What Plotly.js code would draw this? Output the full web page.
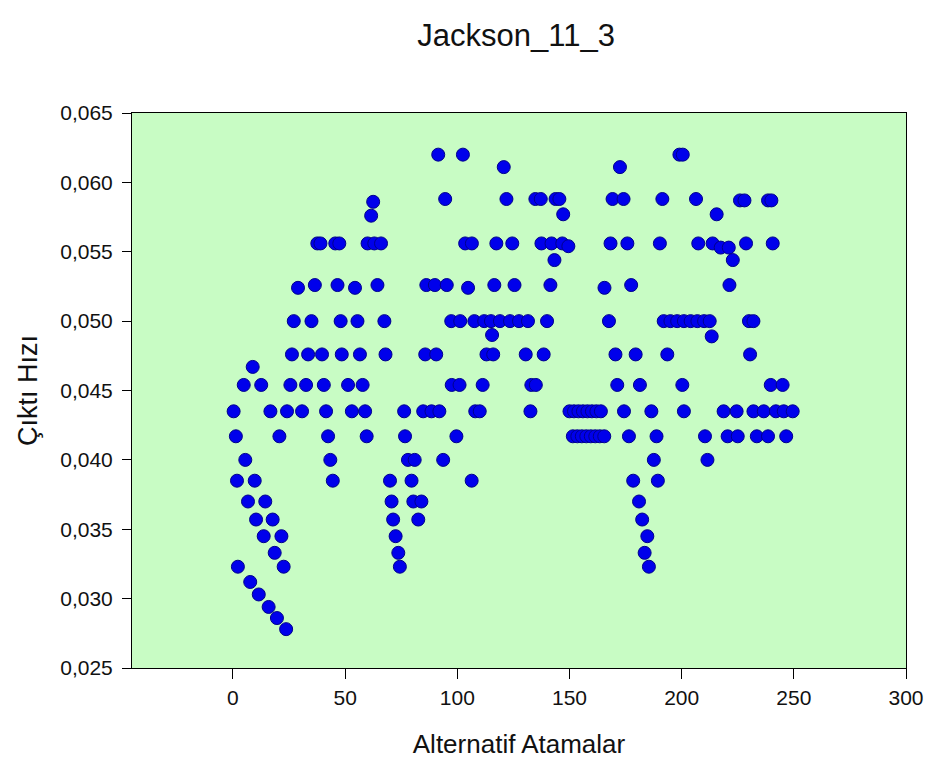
<!DOCTYPE html>
<html>
<head>
<meta charset="utf-8">
<script src="https://cdn.plot.ly/plotly-3.0.1.min.js"></script>
<style>
  html, body { margin: 0; padding: 0; background: #ffffff; }
  #chart { width: 930px; height: 765px; }
</style>
</head>
<body>
<div id="chart"></div>
<script>
// Alternatif Atamalar (x) and Çıktı Hızı (y)
const altX = [
  0.3, 1.3, 1.8, 2.2, 4.8, 5.5, 6.7, 7.7, 8.8, 9.7,
  10.3, 11.5, 12.6, 13.7, 14.4, 15.9, 16.7, 17.7, 18.6, 19.6,
  20.7, 21.6, 22.6, 23.7, 24.1, 25.6, 26.3, 27.1, 29.0, 30.8,
  32.6, 33.5, 35.0, 36.5, 37.6, 39.0, 39.7, 40.5, 41.5, 42.4,
  43.4, 44.5, 45.6, 46.6, 47.4, 48.0, 48.5, 51.3, 53.0, 54.4,
  55.5, 56.6, 57.8, 58.9, 59.6, 60.0, 61.6, 62.5, 63.0, 64.4,
  66.0, 67.5, 68.0, 70.0, 70.7, 71.4, 72.5, 73.7, 74.4, 76.3,
  76.7, 78.0, 79.6, 80.4, 81.0, 82.6, 84.0, 84.8, 85.7, 86.2,
  88.5, 90.0, 90.6, 91.5, 92.0, 93.7, 94.6, 95.3, 97.3, 97.5,
  99.6, 101.0, 101.3, 102.5, 103.5, 104.8, 106.5, 106.4, 107.6, 108.0,
  110.0, 111.3, 112.0, 113.0, 115.0, 115.5, 116.0, 116.5, 117.4, 119.0,
  120.7, 121.9, 123.5, 124.5, 125.5, 127.5, 130.5, 131.5, 132.6, 133.0,
  135.0, 134.8, 137.2, 137.5, 138.5, 140.0, 141.5, 142.0, 143.3, 143.8,
  145.5, 146.8, 147.2, 149.5,
  150, 152, 154, 156, 158, 160, 162, 164,
  151.5, 153.5, 155.5, 157.5, 159.5, 161.5, 163.5, 165.5,
  165.6, 167.6, 168.3, 169.2, 170.5, 171.3, 172.5, 174.1, 174.3, 175.8,
  176.5, 177.5, 178.4, 179.5, 181.0, 181.4, 182.4, 183.5, 184.7, 185.4,
  186.5, 187.6, 188.8, 189.4, 190.3, 191.4,
  192, 195, 198, 201, 204, 207, 210, 212.5,
  193.6, 199.0, 200.5, 200.3, 201.0, 206.4, 207.4, 210.4, 211.5, 213.4,
  213.8, 215.6, 217.4, 218.7, 220.5, 221.0, 221.3, 222.8, 224.5, 225.0,
  226.0, 228.0, 228.7, 230.0, 230.5, 232.0, 232.0, 233.5, 236.6, 238.5,
  238.5, 239.7, 240.0, 240.6, 242.0, 245.0, 245.5, 246.6, 249.5
];
const ciktiHizi = [
  0.0435, 0.0417, 0.0385, 0.0323, 0.0454, 0.0400, 0.0370, 0.0312, 0.0467, 0.0385,
  0.0357, 0.0303, 0.0454, 0.0345, 0.0370, 0.0294, 0.0435, 0.0357, 0.0333, 0.0286,
  0.0417, 0.0345, 0.0323, 0.0278, 0.0435, 0.0454, 0.0476, 0.0500, 0.0524, 0.0435,
  0.0454, 0.0476, 0.0500, 0.0526, 0.0556, 0.0556, 0.0476, 0.0454, 0.0435, 0.0417,
  0.0400, 0.0385, 0.0556, 0.0526, 0.0556, 0.0500, 0.0476, 0.0454, 0.0435, 0.0524,
  0.0500, 0.0476, 0.0454, 0.0435, 0.0417, 0.0556, 0.0576, 0.0586, 0.0556, 0.0526,
  0.0556, 0.0500, 0.0476, 0.0385, 0.0370, 0.0357, 0.0345, 0.0333, 0.0323, 0.0435,
  0.0417, 0.0400, 0.0385, 0.0370, 0.0400, 0.0357, 0.0370, 0.0435, 0.0476, 0.0526,
  0.0435, 0.0526, 0.0476, 0.0620, 0.0435, 0.0400, 0.0588, 0.0526, 0.0500, 0.0454,
  0.0417, 0.0454, 0.0500, 0.0620, 0.0556, 0.0524, 0.0556, 0.0385, 0.0500, 0.0435,
  0.0435, 0.0454, 0.0500, 0.0476, 0.0500, 0.0490, 0.0476, 0.0526, 0.0556, 0.0500,
  0.0611, 0.0588, 0.0500, 0.0556, 0.0526, 0.0500, 0.0476, 0.0500, 0.0435, 0.0454,
  0.0454, 0.0588, 0.0588, 0.0556, 0.0476, 0.0500, 0.0526, 0.0556, 0.0544, 0.0588,
  0.0588, 0.0556, 0.0577, 0.0554,
  0.0435, 0.0435, 0.0435, 0.0435, 0.0435, 0.0435, 0.0435, 0.0435,
  0.0417, 0.0417, 0.0417, 0.0417, 0.0417, 0.0417, 0.0417, 0.0417,
  0.0524, 0.0500, 0.0556, 0.0588, 0.0476, 0.0454, 0.0611, 0.0588, 0.0435, 0.0556,
  0.0417, 0.0526, 0.0385, 0.0476, 0.0370, 0.0454, 0.0357, 0.0333, 0.0345, 0.0323,
  0.0435, 0.0400, 0.0417, 0.0385, 0.0556, 0.0588,
  0.0500, 0.0500, 0.0500, 0.0500, 0.0500, 0.0500, 0.0500, 0.0500,
  0.0476, 0.0620, 0.0620, 0.0454, 0.0435, 0.0588, 0.0556, 0.0417, 0.0400, 0.0489,
  0.0556, 0.0577, 0.0553, 0.0435, 0.0417, 0.0553, 0.0526, 0.0544, 0.0435, 0.0417,
  0.0587, 0.0587, 0.0556, 0.0500, 0.0476, 0.0500, 0.0435, 0.0417, 0.0435, 0.0417,
  0.0587, 0.0454, 0.0587, 0.0556, 0.0435, 0.0454, 0.0435, 0.0417, 0.0435
];
const yTicks = [0.025, 0.030, 0.035, 0.040, 0.045, 0.050, 0.055, 0.060, 0.065];
const xTicks = [0, 50, 100, 150, 200, 250, 300];

const FONT = '"Liberation Sans", Arial, sans-serif';

const trace = {
  type: 'scatter',
  mode: 'markers',
  x: altX,
  y: ciktiHizi,
  marker: {
    size: 13,
    color: 'rgb(0,0,235)',
    line: { color: 'rgb(0,0,140)', width: 1 }
  },
  hoverinfo: 'x+y'
};

const layout = {
  width: 930,
  height: 765,
  separators: ', ',
  paper_bgcolor: '#ffffff',
  plot_bgcolor: '#c8fcc4',
  margin: { l: 132, r: 24, t: 113, b: 97 },
  showlegend: false,
  font: { family: FONT, color: '#111111', size: 15 },
  title: {
    text: 'Jackson_11_3',
    font: { family: FONT, size: 31, color: '#111111' },
    x: 0.555, xref: 'container', xanchor: 'center',
    y: 0.954, yref: 'container', yanchor: 'middle'
  },
  xaxis: {
    range: [-45, 300],
    tickvals: xTicks,
    ticktext: xTicks.map(String),
    ticks: 'outside',
    ticklen: 10,
    tickwidth: 1,
    tickcolor: '#000',
    ticklabelstandoff: 1,
    showline: true,
    linecolor: '#000',
    linewidth: 1,
    mirror: true,
    showgrid: false,
    zeroline: false,
    tickfont: { family: FONT, size: 21, color: '#111' },
    title: {
      text: 'Alternatif Atamalar',
      font: { family: FONT, size: 26, color: '#111' },
      standoff: 26
    }
  },
  yaxis: {
    range: [0.025, 0.065],
    tickvals: yTicks,
    tickformat: '.3f',
    ticks: 'outside',
    ticklen: 9,
    tickwidth: 1,
    tickcolor: '#000',
    ticklabelstandoff: 5,
    showline: true,
    linecolor: '#000',
    linewidth: 1,
    mirror: true,
    showgrid: false,
    zeroline: false,
    tickfont: { family: FONT, size: 21, color: '#111' },
    title: {
      text: 'Çıktı Hızı',
      font: { family: FONT, size: 27, color: '#111' },
      standoff: 14
    }
  }
};

Plotly.newPlot('chart', [trace], layout, { displayModeBar: false, staticPlot: true });
</script>
</body>
</html>
